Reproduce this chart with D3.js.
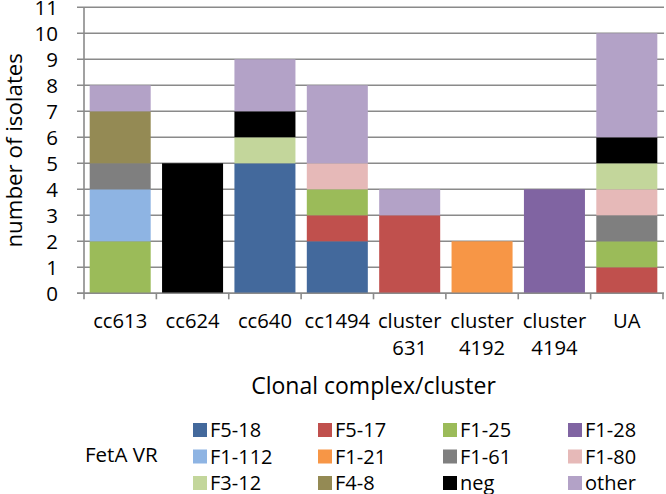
<!DOCTYPE html>
<html>
<head>
<meta charset="utf-8">
<script src="https://cdn.jsdelivr.net/npm/d3@7"></script>
<style>
  html, body { margin: 0; padding: 0; background: #fff; }
  svg { display: block; }
  text { font-family: "Open Sans", "Liberation Sans", sans-serif; fill: #000; }
</style>
</head>
<body>
<svg id="chart" width="666" height="494"></svg>
<script>
// ---- data ----
const categories = ["cc613", "cc624", "cc640", "cc1494", "cluster 631", "cluster 4192", "cluster 4194", "UA"];
const seriesNames = ["F5-18", "F5-17", "F1-25", "F1-28", "F1-112", "F1-21", "F1-61", "F1-80", "F3-12", "F4-8", "neg", "other"];
const seriesColors = ["#43699c", "#c0504d", "#9bbb59", "#8064a2", "#8eb4e3", "#f79646", "#7f7f7f", "#e6b9b8", "#c3d69b", "#948a54", "#000000", "#b3a2c7"];
// values per series, in category order
const F5_18  = [0, 0, 5, 2, 0, 0, 0, 0];
const F5_17  = [0, 0, 0, 1, 3, 0, 0, 1];
const F1_25  = [2, 0, 0, 1, 0, 0, 0, 1];
const F1_28  = [0, 0, 0, 0, 0, 0, 4, 0];
const F1_112 = [2, 0, 0, 0, 0, 0, 0, 0];
const F1_21  = [0, 0, 0, 0, 0, 2, 0, 0];
const F1_61  = [1, 0, 0, 0, 0, 0, 0, 1];
const F1_80  = [0, 0, 0, 1, 0, 0, 0, 1];
const F3_12  = [0, 0, 1, 0, 0, 0, 0, 1];
const F4_8   = [2, 0, 0, 0, 0, 0, 0, 0];
const neg    = [0, 5, 1, 0, 0, 0, 0, 1];
const other  = [1, 0, 2, 3, 1, 0, 0, 4];
const yTicks = [0, 1, 2, 3, 4, 5, 6, 7, 8, 9, 10, 11];
const yTitle = "number of isolates";
const xTitle = "Clonal complex/cluster";
const legendTitle = "FetA VR";

const seriesValues = [F5_18, F5_17, F1_25, F1_28, F1_112, F1_21, F1_61, F1_80, F3_12, F4_8, neg, other];

(function () {
// ---- table for d3.stack ----
const table = categories.map((c, i) => {
  const row = { cat: c };
  seriesNames.forEach((s, j) => row[s] = seriesValues[j][i]);
  return row;
});

const svg = d3.select("#chart");
const pLeft = 84, pRight = 663, pTop = 7.3, pBottom = 293.3;

const x = d3.scaleBand().domain(categories).range([pLeft, pRight]).paddingInner(0.157).paddingOuter(0.0785);
const xEdge = d3.scaleBand().domain(categories).range([pLeft, pRight]).padding(0);
const y = d3.scaleLinear().domain([0, 11]).range([pBottom, pTop]);
const color = d3.scaleOrdinal().domain(seriesNames).range(seriesColors);

// gridlines
svg.append("g").selectAll("line").data(yTicks).join("line")
  .attr("x1", pLeft - 7).attr("x2", pRight + 1)
  .attr("y1", d => y(d)).attr("y2", d => y(d))
  .attr("stroke", "#8a8a8a").attr("stroke-width", 1.6);

// y tick labels
svg.append("g").selectAll("text").data(yTicks).join("text")
  .attr("x", 58).attr("y", d => y(d)).attr("dy", "0.36em")
  .attr("text-anchor", "end").attr("font-size", 20.5)
  .text(d => d);

// stacked bars
const stacked = d3.stack().keys(seriesNames)(table);
svg.append("g").selectAll("g").data(stacked).join("g")
  .attr("fill", d => color(d.key))
  .selectAll("rect").data(d => d).join("rect")
  .attr("x", d => x(d.data.cat))
  .attr("width", x.bandwidth())
  .attr("y", d => y(d[1]))
  .attr("height", d => y(d[0]) - y(d[1]));

// y axis line
svg.append("line").attr("x1", pLeft).attr("x2", pLeft).attr("y1", pTop).attr("y2", pBottom)
  .attr("stroke", "#8a8a8a").attr("stroke-width", 1.6);
// x axis baseline
svg.append("line").attr("x1", pLeft - 7).attr("x2", pRight + 1).attr("y1", pBottom).attr("y2", pBottom)
  .attr("stroke", "#8a8a8a").attr("stroke-width", 1.6);
// x ticks at band edges
const edges = categories.map(c => xEdge(c)).concat([pRight]);
svg.append("g").selectAll("line").data(edges).join("line")
  .attr("x1", d => d).attr("x2", d => d).attr("y1", pBottom).attr("y2", pBottom + 6)
  .attr("stroke", "#8a8a8a").attr("stroke-width", 1.6);

// category labels
const catG = svg.append("g").selectAll("text").data(categories).join("text")
  .attr("x", d => x(d) + x.bandwidth() / 2).attr("y", 328)
  .attr("text-anchor", "middle").attr("font-size", 20.2);
catG.each(function(d) {
  const parts = d.split(" ");
  const t = d3.select(this);
  parts.forEach((p, i) => {
    t.append("tspan").attr("x", x(d) + x.bandwidth() / 2).attr("dy", i === 0 ? 0 : 27).text(p);
  });
});

// axis titles
svg.append("text").attr("x", (pLeft + pRight) / 2).attr("y", 394)
  .attr("text-anchor", "middle").attr("font-size", 23).text(xTitle);
svg.append("text").attr("transform", `translate(22,${(pTop + pBottom) / 2}) rotate(-90)`)
  .attr("text-anchor", "middle").attr("font-size", 22.3).text(yTitle);

// legend
svg.append("text").attr("x", 85).attr("y", 462).attr("font-size", 20.5).text(legendTitle);
const lg = svg.append("g").selectAll("g").data(seriesNames).join("g")
  .attr("transform", (d, i) => `translate(${193 + (i % 4) * 125},${437 + Math.floor(i / 4) * 26.5})`);
lg.append("rect").attr("x", 0).attr("y", -14).attr("width", 14).attr("height", 14)
  .attr("fill", d => color(d));
lg.append("text").attr("x", 17).attr("y", 0).attr("font-size", 20).text(d => d);
})();
</script>
</body>
</html>
